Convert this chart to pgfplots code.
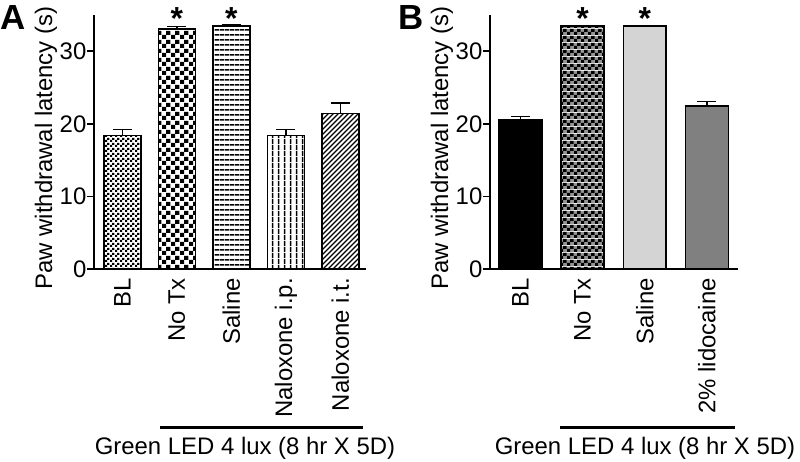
\documentclass[border=0pt]{standalone}
\usepackage{fontspec}
\setmainfont{Liberation Sans}
\usepackage{pgfplots}
\pgfplotsset{compat=1.18}
\usetikzlibrary{patterns}

% bar fills
\pgfdeclarepatternformonly{checkfine}{\pgfpointorigin}{\pgfpoint{5bp}{5bp}}{\pgfpoint{5bp}{5bp}}{%
  \pgfpathrectangle{\pgfpointorigin}{\pgfpoint{2.5bp}{2.5bp}}%
  \pgfpathrectangle{\pgfpoint{2.5bp}{2.5bp}}{\pgfpoint{2.5bp}{2.5bp}}%
  \pgfusepath{fill}}
\pgfdeclarepatternformonly{checkcoarse}{\pgfpointorigin}{\pgfpoint{9bp}{9bp}}{\pgfpoint{9bp}{9bp}}{%
  \pgfpathrectangle{\pgfpointorigin}{\pgfpoint{4.5bp}{4.5bp}}%
  \pgfpathrectangle{\pgfpoint{4.5bp}{4.5bp}}{\pgfpoint{4.5bp}{4.5bp}}%
  \pgfusepath{fill}}
\pgfdeclarepatternformonly{hlines}{\pgfpointorigin}{\pgfpoint{5bp}{5bp}}{\pgfpoint{5bp}{5bp}}{%
  \pgfpathrectangle{\pgfpoint{0bp}{1.7bp}}{\pgfpoint{5bp}{1.6bp}}%
  \pgfusepath{fill}}
\pgfdeclarepatternformonly{vlines}{\pgfpointorigin}{\pgfpoint{6bp}{6bp}}{\pgfpoint{6bp}{6bp}}{%
  \pgfpathrectangle{\pgfpoint{2.2bp}{0bp}}{\pgfpoint{1.6bp}{6bp}}%
  \pgfusepath{fill}}
\pgfdeclarepatternformonly{diag}{\pgfpoint{-1bp}{-1bp}}{\pgfpoint{6bp}{6bp}}{\pgfpoint{5bp}{5bp}}{%
  \pgfsetlinewidth{1.4bp}%
  \pgfpathmoveto{\pgfpoint{0bp}{0bp}}\pgfpathlineto{\pgfpoint{5.05bp}{5.05bp}}%
  \pgfusepath{stroke}}
\pgfdeclarepatterninherentlycolored{checkgray}{\pgfpointorigin}{\pgfpoint{7bp}{7bp}}{\pgfpoint{7bp}{7bp}}{%
  \pgfsetfillcolor{black!42}%
  \pgfpathrectangle{\pgfpointorigin}{\pgfpoint{7bp}{7bp}}\pgfusepath{fill}%
  \pgfsetfillcolor{black}%
  \pgfpathrectangle{\pgfpointorigin}{\pgfpoint{3.5bp}{3.5bp}}%
  \pgfpathrectangle{\pgfpoint{3.5bp}{3.5bp}}{\pgfpoint{3.5bp}{3.5bp}}%
  \pgfusepath{fill}}

\definecolor{lightbar}{HTML}{D4D4D4}
\definecolor{midbar}{HTML}{808080}

\newcommand{\lblfont}{\fontsize{24}{28}\selectfont}

\pgfplotsset{
  panel/.style={
    scale only axis, height=254bp, anchor=south west,
    ymin=0, ymax=35, ytick={0,10,20,30},
    axis lines*=left,
    axis line style={line width=1.6bp, black},
    tick align=outside, major tick length=7bp,
    ytick style={line width=1.6bp, black},
    xtick style={draw=none},
    ybar, bar shift=0pt,
    clip=false,
    /pgf/number format/assume math mode=true,
    yticklabel style={font=\lblfont, inner sep=0.5bp},
    xticklabel style={font=\lblfont, rotate=90, anchor=east, inner sep=2bp},
    ylabel={Paw withdrawal latency (s)},
    label style={font=\lblfont},
  },
  bar/.style={draw=black, line width=1.6bp,
    error bars/.cd, y dir=plus, y explicit,
    error bar style={line width=1.6bp, black},
    error mark options={rotate=90, mark size=9.5bp, line width=1.6bp, black}},
}

\begin{document}
\begin{tikzpicture}[x=1bp, y=1bp]
\useasboundingbox (0,0) rectangle (800,462);

% panel A
\begin{axis}[panel, at={(94bp,193bp)}, width=272bp,
  bar width=0.68, xmin=-0.52, xmax=4.47,
  xtick={0,1,2,3,4},
  xticklabels={BL,No Tx,Saline,Naloxone i.p.,Naloxone i.t.},
  ylabel style={at={(axis description cs:-0.1765,0.476)}, anchor=center}]
\addplot[pattern=checkfine, bar] coordinates {(0,18.4) +- (0,0.8)};
\addplot[pattern=checkcoarse, bar] coordinates {(1,33.1) +- (0,0.3)};
\addplot[pattern=hlines, bar] coordinates {(2,33.5) +- (0,0.1)};
\addplot[pattern=vlines, bar] coordinates {(3,18.4) +- (0,0.8)};
\addplot[pattern=diag, bar] coordinates {(4,21.4) +- (0,1.5)};
\node[font=\fontsize{32}{32}\bfseries\selectfont, anchor=north, inner sep=0pt] at (axis cs:1,36) {*};
\node[font=\fontsize{32}{32}\bfseries\selectfont, anchor=north, inner sep=0pt] at (axis cs:2,36) {*};
\end{axis}

% panel B
\begin{axis}[panel, at={(490bp,193bp)}, width=248bp,
  bar width=0.69, xmin=-0.49, xmax=3.5,
  xtick={0,1,2,3},
  xticklabels={BL,No Tx,Saline,2\% lidocaine},
  ylabel style={at={(axis description cs:-0.1935,0.476)}, anchor=center}]
\addplot[fill=black, bar] coordinates {(0,20.6) +- (0,0.4)};
\addplot[pattern=checkgray, bar] coordinates {(1,33.5) +- (0,0)};
\addplot[fill=lightbar, bar] coordinates {(2,33.5) +- (0,0)};
\addplot[fill=midbar, bar] coordinates {(3,22.5) +- (0,0.6)};
\node[font=\fontsize{32}{32}\bfseries\selectfont, anchor=north, inner sep=0pt] at (axis cs:1,36) {*};
\node[font=\fontsize{32}{32}\bfseries\selectfont, anchor=north, inner sep=0pt] at (axis cs:2,36) {*};
\end{axis}

% panel letters
\node[anchor=base west, inner sep=0pt, font=\fontsize{35}{35}\bfseries\selectfont] at (0,432) {A};
\node[anchor=base west, inner sep=0pt, font=\fontsize{35}{35}\bfseries\selectfont] at (398,432) {B};

% treatment brackets
\draw[line width=3bp] (160,34) -- (363,34);
\node[anchor=base, inner sep=0pt, font=\lblfont] at (245,7) {Green LED 4 lux (8 hr X 5D)};
\draw[line width=3bp] (560,34) -- (735,34);
\node[anchor=base, inner sep=0pt, font=\lblfont] at (645,7) {Green LED 4 lux (8 hr X 5D)};
\end{tikzpicture}
\end{document}
